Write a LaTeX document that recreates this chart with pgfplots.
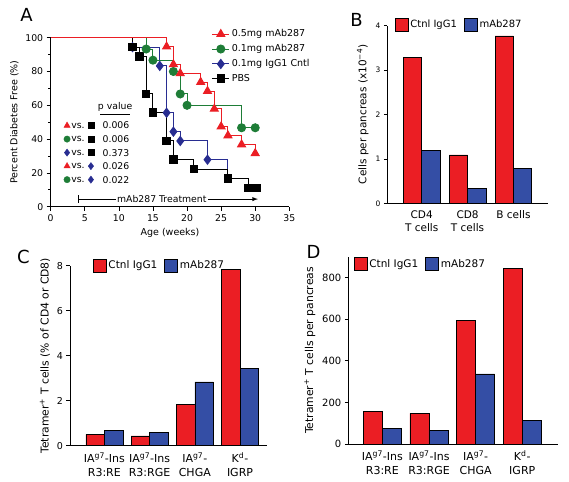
\documentclass[border=0pt]{standalone}
\usepackage{pgfplots}
\pgfplotsset{compat=1.18}
\usepackage{fontspec}
\setmainfont{DejaVu Sans}
\definecolor{cred}{RGB}{235,30,36}
\definecolor{cblue}{RGB}{52,78,165}
\definecolor{cgreen}{RGB}{30,125,55}
\definecolor{cnavy}{RGB}{40,45,145}
\pgfplotsset{
  boxleg/.style={legend image code/.code={\draw[##1] (0pt,-6.5pt) rectangle (13pt,6.5pt);}},
  barpanel/.style={
    scale only axis, anchor=south west,
    axis lines*=left, axis line style={line width=0.8pt,-},
    ybar=0pt, ymin=0,
    tick align=outside, major tick length=3.5pt,
    tick style={black,line width=0.7pt},
    major x tick style={draw=none},
    x tick label style={align=center},
    /pgf/number format/assume math mode=true,
    legend columns=2,
    legend style={draw=none,fill=none,inner sep=0pt,
      /tikz/every even column/.append style={column sep=5pt}},
  }
}
\newcommand{\pvrow}[2]{%
  \node[anchor=west,inner sep=0pt,font=\fontsize{9.3}{9}\selectfont] at (axis cs:3.0,#1) {vs.};
  \node[anchor=west,inner sep=0pt,font=\fontsize{9.3}{9}\selectfont] at (axis cs:7.6,#1) {#2};}
\begin{document}
\begin{tikzpicture}
\path[use as bounding box] (0pt,0pt) rectangle (569pt,481pt);
% ---------------- Panel A ----------------
\begin{axis}[
  at={(50.7pt,274.3pt)}, anchor=south west,
  scale only axis, width=238.6pt, height=169pt,
  xmin=0, xmax=35, ymin=0, ymax=100,
  axis lines*=left, axis line style={line width=0.8pt,-},
  xtick={0,5,...,35}, ytick={0,20,...,100}, minor ytick={10,30,...,90},
  tick align=outside, major tick length=4pt, minor tick length=2.5pt,
  tick style={black,line width=0.7pt},
  tick label style={font=\fontsize{9.3}{9}\selectfont},
  /pgf/number format/assume math mode=true,
  xlabel={Age (weeks)}, ylabel={Percent Diabetes Free (\%)},
  label style={font=\fontsize{9.5}{10}\selectfont},
  clip=false,
  legend cell align=left,
  legend style={draw=none,fill=none,inner sep=0pt,at={(axis cs:23.6,106)},anchor=north west,
    font=\fontsize{9.5}{9.5}\selectfont, row sep=2.2pt},
]
\addlegendimage{cred,line width=1pt,mark=triangle*,mark size=4.5pt}
\addlegendentry{0.5mg mAb287}
\addlegendimage{cgreen,line width=1pt,mark=*,mark size=4pt}
\addlegendentry{0.1mg mAb287}
\addlegendimage{cnavy,line width=1pt,mark=diamond*,mark size=4.5pt}
\addlegendentry{0.1mg IgG1 Cntl}
\addlegendimage{black,line width=1pt,mark=square*,mark size=3.8pt}
\addlegendentry{PBS}
% IgG1 control
\addplot[cnavy,line width=1pt,const plot,mark=diamond*,mark size=4.5pt,mark indices={2,3,4,5,6,7},forget plot]
 coordinates {(0,100)(12,94.4)(16,83.3)(17,55.6)(18,44.4)(19,38.9)(23,27.8)(26,22.2)};
% PBS
\addplot[black,line width=1pt,const plot,mark=square*,mark size=3.8pt,mark indices={2,3,4,5,6,7,8,9,10,11,12},forget plot]
 coordinates {(0,100)(12,94.4)(13,88.9)(14,66.7)(15,55.6)(17,38.9)(18,27.8)(21,22.2)(26,16.7)(29,11.1)(29.6,11.1)(30.2,11.1)};
% 0.1mg mAb287
\addplot[cgreen,line width=1pt,const plot,mark=*,mark size=4pt,mark indices={2,3,4,5,6,7,8},forget plot]
 coordinates {(0,100)(14,93.3)(15,86.7)(18,80)(19,66.7)(20,60)(28,46.7)(30,46.7)};
% 0.5mg mAb287
\addplot[cred,line width=1pt,const plot,mark=triangle*,mark size=4.5pt,mark indices={2,3,4,5,6,7,8,9,10,11},forget plot]
 coordinates {(0,100)(17,94.7)(18,84.2)(19,78.9)(22,73.7)(23,68.4)(24,57.9)(25,47.4)(26,42.1)(28,36.8)(30,31.6)};
% p value table
\addplot[only marks,cred,mark=triangle*,mark size=3.6pt,forget plot] coordinates {(2.4,48)(2.4,24)};
\addplot[only marks,cgreen,mark=*,mark size=3.2pt,forget plot] coordinates {(2.4,40)(2.4,16)};
\addplot[only marks,cnavy,mark=diamond*,mark size=3.6pt,forget plot] coordinates {(2.4,32)(5.9,24)(5.9,16)};
\addplot[only marks,black,mark=square*,mark size=3pt,forget plot] coordinates {(5.9,48)(5.9,40)(5.9,32)};
\pvrow{48}{0.006}
\pvrow{40}{0.006}
\pvrow{32}{0.373}
\pvrow{24}{0.026}
\pvrow{16}{0.022}
\node[font=\fontsize{9.3}{9}\selectfont,inner sep=0pt] at (axis cs:9.45,59) {p value};
\draw[line width=1pt] (axis cs:7.3,54.5) -- (axis cs:11.6,54.5);
\draw[|-latex,line width=0.9pt] (axis cs:4,4.5) -- (axis cs:30.4,4.5);
\node[fill=white,inner sep=1.2pt,font=\fontsize{9.3}{9}\selectfont] at (axis cs:16.3,4.5) {mAb287 Treatment};
\end{axis}
% ---------------- Panel B ----------------
\begin{axis}[barpanel,
  at={(387.3pt,277.7pt)}, width=161pt, height=177.6pt,
  bar width=18.3pt,
  xmin=-0.75, xmax=2.76, ymax=4,
  xtick={0,1,2}, xticklabels={{CD4\\T cells},{CD8\\T cells},{B cells}},
  ytick={0,1,2,3,4},
  y tick label style={font=\fontsize{7.5}{8}\selectfont},
  x tick label style={font=\fontsize{10.5}{13}\selectfont},
  ylabel={Cells per pancreas (x10\textsuperscript{−4})},
  ylabel style={font=\fontsize{10.5}{10}\selectfont},
  legend style={at={(axis description cs:0.045,1.045)},anchor=north west,font=\fontsize{10}{10}\selectfont},
]
\addplot[fill=cred,draw=black,line width=0.6pt,boxleg] coordinates {(0,3.28)(1,1.09)(2,3.77)};
\addlegendentry{Ctnl IgG1}
\addplot[fill=cblue,draw=black,line width=0.6pt,boxleg] coordinates {(0,1.2)(1,0.34)(2,0.79)};
\addlegendentry{mAb287}
\end{axis}
% ---------------- Panel C ----------------
\begin{axis}[barpanel,
  at={(70pt,35.3pt)}, width=196.7pt, height=180pt,
  bar width=18.5pt,
  xmin=-0.76, xmax=3.59, ymax=8,
  xtick={0,1,2,3},
  xticklabels={{IA\textsuperscript{g7}-Ins\\R3:RE},{IA\textsuperscript{g7}-Ins\\R3:RGE},{IA\textsuperscript{g7}-\\CHGA},{K\textsuperscript{d}-\\IGRP}},
  ytick={0,2,4,6,8},
  y tick label style={font=\fontsize{9.5}{9}\selectfont},
  x tick label style={font=\fontsize{11}{14}\selectfont},
  ylabel={Tetramer\textsuperscript{+} T cells (\% of CD4 or CD8)},
  ylabel style={font=\fontsize{10.8}{10}\selectfont},
  legend style={at={(axis description cs:0.115,1.04)},anchor=north west,font=\fontsize{10.5}{10}\selectfont},
]
\addplot[fill=cred,draw=black,line width=0.6pt,boxleg] coordinates {(0,0.50)(1,0.44)(2,1.85)(3,7.82)};
\addlegendentry{Ctnl IgG1}
\addplot[fill=cblue,draw=black,line width=0.6pt,boxleg] coordinates {(0,0.67)(1,0.58)(2,2.84)(3,3.44)};
\addlegendentry{mAb287}
\end{axis}
% ---------------- Panel D ----------------
\begin{axis}[barpanel,
  at={(348.3pt,37pt)}, width=209.4pt, height=187.1pt,
  bar width=19pt,
  xmin=-0.73, xmax=3.76, ymax=900,
  xtick={0,1,2,3},
  xticklabels={{IA\textsuperscript{g7}-Ins\\R3:RE},{IA\textsuperscript{g7}-Ins\\R3:RGE},{IA\textsuperscript{g7}-\\CHGA},{K\textsuperscript{d}-\\IGRP}},
  ytick={0,200,...,800},
  y tick label style={font=\fontsize{10}{10}\selectfont},
  x tick label style={font=\fontsize{11}{14}\selectfont},
  ylabel={Tetramer\textsuperscript{+} T cells per pancreas},
  ylabel style={font=\fontsize{10.8}{10.5}\selectfont},
  legend style={at={(axis description cs:0.025,1.0)},anchor=north west,font=\fontsize{10.5}{10.5}\selectfont},
]
\addplot[fill=cred,draw=black,line width=0.6pt,boxleg] coordinates {(0,155)(1,147)(2,596)(3,843)};
\addlegendentry{Ctnl IgG1}
\addplot[fill=cblue,draw=black,line width=0.6pt,boxleg] coordinates {(0,75)(1,67)(2,337)(3,115)};
\addlegendentry{mAb287}
\end{axis}
% panel letters
\node[font=\fontsize{18}{18}\selectfont,inner sep=0pt] at (26.5pt,466pt) {A};
\node[font=\fontsize{18}{18}\selectfont,inner sep=0pt] at (356.5pt,461pt) {B};
\node[font=\fontsize{18}{18}\selectfont,inner sep=0pt] at (23.5pt,224.5pt) {C};
\node[font=\fontsize{18}{18}\selectfont,inner sep=0pt] at (313.5pt,229.5pt) {D};
\end{tikzpicture}
\end{document}
